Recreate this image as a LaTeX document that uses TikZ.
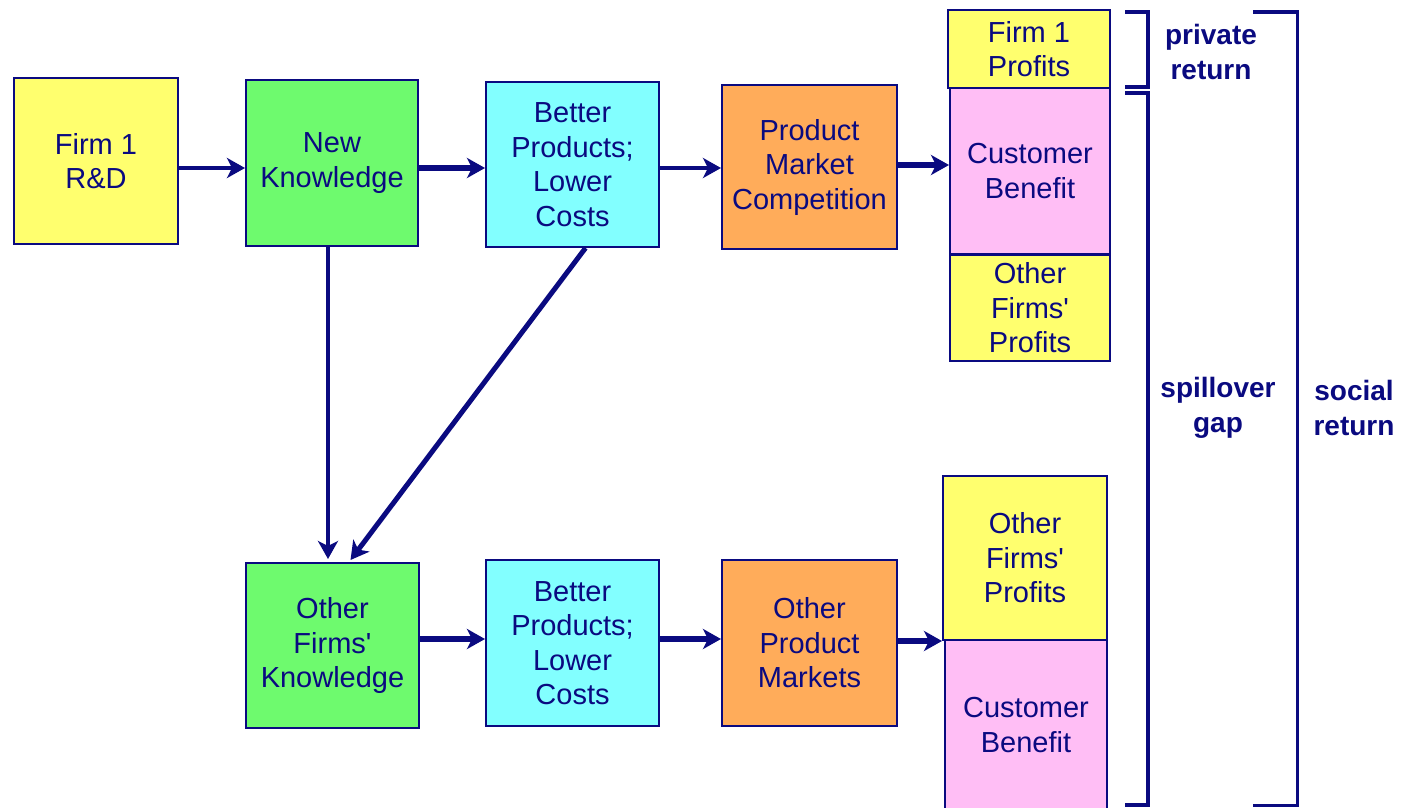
\documentclass[tikz,border=0pt]{standalone}
\usepackage{fontspec}
\setmainfont{Liberation Sans}
\usetikzlibrary{arrows.meta}
\definecolor{navy}{RGB}{10,10,128}
\definecolor{byellow}{RGB}{255,255,110}
\definecolor{bgreen}{RGB}{110,250,110}
\definecolor{bcyan}{RGB}{130,255,255}
\definecolor{borange}{RGB}{255,172,90}
\definecolor{bpink}{RGB}{255,190,245}
\newcommand{\apos}{\textquotesingle}
\tikzset{
  box/.style={draw=navy, line width=2pt, align=center, text=navy, inner sep=0pt,
    font=\fontsize{29}{34.5}\selectfont},
  yel/.style={box, fill=byellow},
  grn/.style={box, fill=bgreen},
  cyn/.style={box, fill=bcyan},
  org/.style={box, fill=borange},
  pnk/.style={box, fill=bpink},
  arr/.style={draw=navy, -{Stealth[length=18pt,width=20pt,inset=5pt]}},
  thin arr/.style={arr, line width=4pt},
  thick arr/.style={arr, line width=6.5pt},
  brk/.style={draw=navy, line width=4pt},
  lbl/.style={text=navy, align=center, font=\bfseries\fontsize{28}{34.5}\selectfont}
}
\begin{document}
\begin{tikzpicture}[x=1pt,y=-1pt]
\useasboundingbox (0,0) rectangle (1402,808);
\clip (0,0) rectangle (1402,808);
\fill[white] (0,0) rectangle (1402,808);
% top row
\node[yel, minimum width=164pt, minimum height=166pt] (fr) at (96,161) {Firm 1\\R\&D};
\node[grn, minimum width=172pt, minimum height=166pt] (nk) at (332,163) {New\\Knowledge};
\node[cyn, minimum width=173pt, minimum height=165pt] (bp) at (572.5,164.5) {Better\\Products;\\Lower\\Costs};
\node[org, minimum width=175pt, minimum height=164pt] (pmc) at (809.5,167) {Product\\Market\\Competition};
% bottom row
\node[grn, minimum width=173pt, minimum height=165pt] (ofk) at (332.5,645.5) {Other\\Firms\apos\\Knowledge};
\node[cyn, minimum width=173pt, minimum height=166pt] (bp2) at (572.5,643) {Better\\Products;\\Lower\\Costs};
\node[org, minimum width=175pt, minimum height=166pt] (opm) at (809.5,643) {Other\\Product\\Markets};
% right column
\node[yel, minimum width=162pt, minimum height=78pt] (f1p) at (1029,49) {Firm 1\\Profits};
\node[pnk, minimum width=160pt, minimum height=166pt] (cb1) at (1030,171) {Customer\\Benefit};
\node[yel, minimum width=160pt, minimum height=106pt] (ofp1) at (1030,308) {Other\\Firms\apos\\Profits};
\node[yel, minimum width=164pt, minimum height=164pt] (ofp2) at (1025,558) {Other\\Firms\apos\\Profits};
\node[pnk, minimum width=162pt, minimum height=170pt] (cb2) at (1026,725) {Customer\\Benefit};
% connectors
\coordinate (r1) at (0,168);
\coordinate (r2) at (0,639);
\coordinate (r3) at (0,165);
\coordinate (c1) at (328,0);
\draw[thin arr] (fr.east |- r1) -- (nk.west |- r1);
\draw[thick arr] (nk.east |- r1) -- (bp.west |- r1);
\draw[thin arr] (bp.east |- r1) -- (pmc.west |- r1);
\draw[thick arr] (pmc.east |- r3) -- (cb1.west |- r3);
\draw[thin arr] (nk.south -| c1) -- ([yshift=3pt]ofk.north -| c1);
\draw[arr, line width=5pt] ([xshift=13pt]bp.south) -- ([xshift=18pt,yshift=2pt]ofk.north);
\draw[thick arr] (ofk.east |- r2) -- (bp2.west |- r2);
\draw[thick arr] (bp2.east |- r2) -- (opm.west |- r2);
\draw[thick arr] (opm.east |- ofp2.south west) -- (ofp2.south west);
% brackets
\draw[brk] (1125,12) -- (1148,12) -- (1148,87) -- (1125,87);
\draw[brk] (1125,93) -- (1148,93) -- (1148,805) -- (1125,805);
\draw[brk] (1253,12) -- (1297,12);
\draw[draw=navy, line width=3pt] (1297,10.5) -- (1297,805) -- (1253,805);
% labels
\node[lbl] (pr) at (1211,52) {private\\return};
\node[lbl] (sg) at (1218,408) {spillover\\gap};
\node[lbl] (sr) at (1354,408) {social\\return};
\end{tikzpicture}
\end{document}
